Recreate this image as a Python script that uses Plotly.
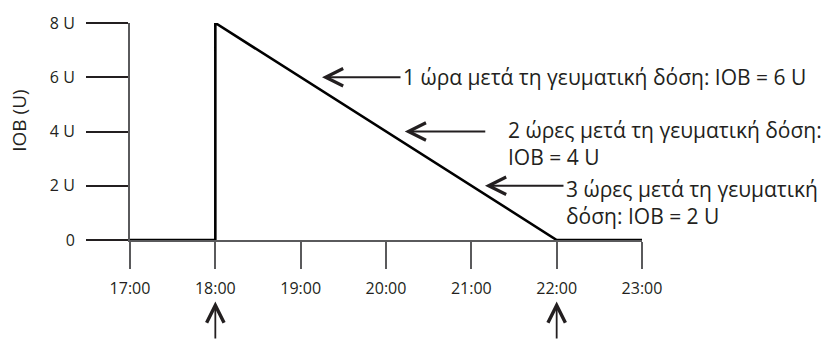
import plotly.graph_objects as go

# Insulin on board after a meal bolus given at 18:00 (hours, units)
hours = [17, 18, 18, 22, 23]
iob_units = [0, 0, 8, 0, 0]

x_ticks = [17, 18, 19, 20, 21, 22, 23]
x_tick_labels = ["17:00", "18:00", "19:00", "20:00", "21:00", "22:00", "23:00"]
y_ticks = [0, 2, 4, 6, 8]
y_tick_labels = ["0", "2 U", "4 U", "6 U", "8 U"]

# Callouts: arrow tip (hour, units) and text lines
callout_tips = [(19.25, 6), (20.22, 4), (21.16, 2)]
callout_lines = [
    ["1 ώρα μετά τη γευματική δόση: IOB = 6 U"],
    ["2 ώρες μετά τη γευματική δόση:", "IOB = 4 U"],
    ["3 ώρες μετά τη γευματική", "δόση: IOB = 2 U"],
]
# Time markers below the axis
marker_hours = [18, 22]

FONT = "Open Sans"
INK = "#231f20"
AXIS = "#5a5a5c"

fig = go.Figure()
fig.add_trace(go.Scatter(
    x=hours, y=iob_units, mode="lines",
    line=dict(color="#000000", width=2.6),
    cliponaxis=False, hoverinfo="skip", showlegend=False,
))

L, R, T, B = 130, 193, 18, 100
W, H = 835, 340
pw, ph = W - L - R, H - T - B

def px_to_paper(px, py):
    return (px - L) / pw, (H - B - py) / ph

annotations = []
arrow_tails = [80, 82, 80]
text_left = [401, 506, 564]
text_top = [57, 111, 171]
for (tx, ty), tail, left, top, lines in zip(callout_tips, arrow_tails, text_left, text_top, callout_lines):
    annotations.append(dict(
        x=tx, y=ty, xref="x", yref="y", text="", showarrow=True,
        ax=tail, ay=0, arrowhead=5, arrowsize=1.9, arrowwidth=1.8,
        arrowcolor=INK, standoff=0,
    ))
    xp, yp = px_to_paper(left, top)
    annotations.append(dict(
        x=xp, y=yp, xref="paper", yref="paper", text="<br>".join(lines),
        showarrow=False, xanchor="left", yanchor="top", align="left",
        font=dict(family=FONT, size=21, color=INK),
    ))

for h in marker_hours:
    _, yp = px_to_paper(0, 303)
    annotations.append(dict(
        x=h, y=yp, xref="x", yref="paper", text="", showarrow=True,
        ax=0, ay=42, arrowhead=5, arrowsize=1.9, arrowwidth=1.8,
        arrowcolor=INK, standoff=0,
    ))

xp, yp = px_to_paper(19, 118)
annotations.append(dict(
    x=xp, y=yp, xref="paper", yref="paper", text="IOB (U)", textangle=-90,
    showarrow=False, xanchor="center", yanchor="middle",
    font=dict(family=FONT, size=19, color=INK),
))

fig.update_layout(
    width=W, height=H, autosize=False,
    margin=dict(l=L, r=R, t=T, b=B, pad=0),
    plot_bgcolor="white", paper_bgcolor="white",
    annotations=annotations,
    xaxis=dict(
        range=[17, 23], tickvals=x_ticks, ticktext=x_tick_labels,
        showgrid=False, zeroline=False, showline=True,
        linecolor=AXIS, linewidth=2, ticks="outside", ticklen=27,
        tickwidth=2, tickcolor=AXIS, ticklabelstandoff=6,
        tickfont=dict(family=FONT, size=16, color=INK), fixedrange=True,
    ),
    yaxis=dict(
        range=[0, 8], tickvals=y_ticks, ticktext=y_tick_labels,
        showgrid=False, zeroline=False, showline=True,
        linecolor=AXIS, linewidth=2, ticks="outside", ticklen=42,
        tickwidth=1.5, tickcolor=INK, ticklabelstandoff=8,
        tickfont=dict(family=FONT, size=16, color=INK), fixedrange=True,
    ),
)

fig.write_html("out.html")
